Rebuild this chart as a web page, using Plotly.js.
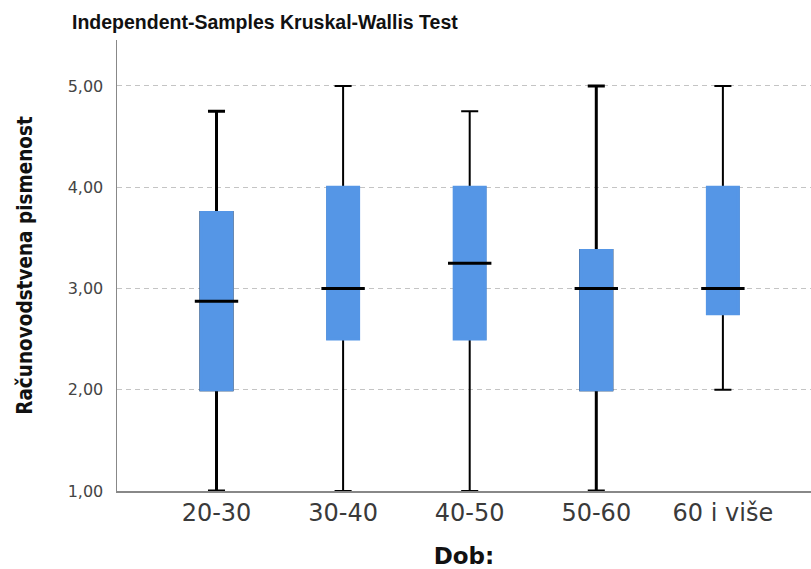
<!DOCTYPE html>
<html>
<head>
<meta charset="utf-8">
<script src="https://cdn.plot.ly/plotly-3.0.1.min.js"></script>
<style>html,body{margin:0;padding:0;background:#fff;}#chart{width:811px;height:569px;}</style>
</head>
<body>
<div id="chart"></div>
<script>
// Data
const categories = ["20-30", "30-40", "40-50", "50-60", "60 i više"];
const lowerWhisker = [1.00, 1.00, 1.00, 1.00, 2.00];
const q1 = [2.00, 2.50, 2.50, 2.00, 2.75];
const median = [2.875, 3.00, 3.25, 3.00, 3.00];
const q3 = [3.75, 4.00, 4.00, 3.375, 4.00];
const upperWhisker = [4.75, 5.00, 4.75, 5.00, 5.00];
const yTickVals = [1, 2, 3, 4, 5];

const BLUE = "#5596e6";
const lineWidths = [3, 2, 2, 3, 2];
const traces = [];
// whiskers (black) layer
categories.forEach((c, i) => {
  traces.push({
    type: "box", x: [c], q1: [q1[i]], median: [median[i]], q3: [q3[i]],
    lowerfence: [lowerWhisker[i]], upperfence: [upperWhisker[i]],
    width: 0.245, whiskerwidth: 0.55,
    line: {color: "#000", width: lineWidths[i]}, fillcolor: BLUE,
    boxpoints: false, hoverinfo: "skip", showlegend: false
  });
});
// blue box body layer
categories.forEach((c, i) => {
  traces.push({
    type: "box", x: [c], q1: [q1[i]], median: [median[i]], q3: [q3[i]],
    lowerfence: [q1[i]], upperfence: [q3[i]],
    width: 0.245, whiskerwidth: 0,
    line: {color: BLUE, width: 3}, fillcolor: BLUE,
    boxpoints: false, hoverinfo: "skip", showlegend: false
  });
});
// median lines
traces.push({
  type: "scatter", mode: "markers", x: categories, y: median,
  marker: {symbol: "line-ew", size: 31, color: "#000", line: {color: "#000", width: 3}},
  hoverinfo: "skip", showlegend: false
});

const layout = {
  width: 811, height: 569,
  margin: {l: 117, r: 0, t: 40, b: 78},
  paper_bgcolor: "#fff", plot_bgcolor: "#fff",
  separators: ",.",
  boxmode: "overlay",
  title: {
    text: "<b>Independent-Samples Kruskal-Wallis Test</b>",
    font: {family: "Liberation Sans, Arial, sans-serif", size: 19.5, color: "#111"},
    x: 72 / 811, xanchor: "left", xref: "container",
    y: 1 - 22 / 569, yanchor: "middle", yref: "container"
  },
  xaxis: {
    type: "category",
    range: [-0.786, 4.696],
    showline: true, linecolor: "#888", linewidth: 1.5,
    showgrid: false, zeroline: false, ticks: "",
    ticklabelstandoff: 0,
    tickfont: {family: "DejaVu Sans, sans-serif", size: 24, color: "#3a3a3a"},
    title: {text: "<b>Dob:</b>", standoff: 25,
      font: {family: "DejaVu Sans, sans-serif", size: 23, color: "#111"}},
    automargin: false, fixedrange: true
  },
  yaxis: {
    range: [1, 5.454],
    tickvals: yTickVals, tickformat: ".2f",
    showline: true, linecolor: "#888", linewidth: 1.5,
    showgrid: true, gridcolor: "#c4c4c4", griddash: "5px,4px", gridwidth: 1,
    zeroline: false, ticks: "",
    ticklabelstandoff: 9,
    tickfont: {family: "DejaVu Sans, sans-serif", size: 16, color: "#444"},
    title: {text: "<b>Računovodstvena pismenost</b>", standoff: 29,
      font: {family: "DejaVu Sans Condensed, sans-serif", size: 20.5, color: "#111"}},
    automargin: false, fixedrange: true
  }
};

Plotly.newPlot("chart", traces, layout, {displayModeBar: false, staticPlot: true});
</script>
</body>
</html>
